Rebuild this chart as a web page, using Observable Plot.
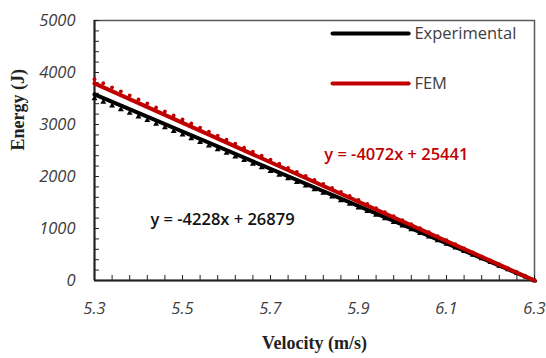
<!DOCTYPE html>
<html><head><meta charset="utf-8">
<script src="https://cdn.jsdelivr.net/npm/d3@7"></script>
<script src="https://cdn.jsdelivr.net/npm/@observablehq/plot@0.6"></script>
<style>body{margin:0;background:#fff}</style>
</head><body><div id="chart"></div>
<script>
const velocity = [5.30,5.32,5.34,5.36,5.38,5.40,5.42,5.44,5.46,5.48,5.50,5.52,5.54,5.56,5.58,5.60,5.62,5.64,5.66,5.68,5.70,5.72,5.74,5.76,5.78,5.80,5.82,5.84,5.86,5.88,5.90,5.92,5.94,5.96,5.98,6.00,6.02,6.04,6.06,6.08,6.10,6.12,6.14,6.16,6.18,6.20,6.22,6.24,6.26,6.28,6.30];
const expEnergy = [3500,3430,3360,3290,3220,3150,3080,3010,2940,2870,2800,2730,2660,2590,2520,2450,2380,2310,2240,2170,2100,2030,1960,1890,1820,1750,1680,1610,1540,1470,1400,1330,1260,1190,1120,1050,980,910,840,770,700,630,560,490,420,350,280,210,140,70,0];
const femEnergy = [3870,3793,3715,3638,3560,3483,3406,3328,3251,3173,3096,3019,2941,2864,2786,2709,2632,2554,2477,2399,2322,2245,2167,2090,2012,1935,1858,1780,1703,1625,1548,1471,1393,1316,1238,1161,1084,1006,929,851,774,697,619,542,464,387,310,232,155,77,0];
const expLineV = [5.3, 6.3];
const expLineE = [3580, 0];
const femLineV = [5.3, 6.3];
const femLineE = [3790, 0];
const seriesNames = ["Experimental", "FEM"];
const seriesColors = ["#000000", "#c00000"];
const equations = ["y = -4228x + 26879", "y = -4072x + 25441"];
const xMajor = [5.3, 5.5, 5.7, 5.9, 6.1, 6.3];
const xMinor = d3.range(0, 26).map(i => 5.3 + i * 0.04);
const yMajor = [0, 1000, 2000, 3000, 4000, 5000];
const yMinor = d3.range(0, 26).map(i => i * 200);

const expPts = velocity.map((v, i) => ({v, e: expEnergy[i]}));
const femPts = velocity.map((v, i) => ({v, e: femEnergy[i]}));
const expLine = expLineV.map((v, i) => ({v, e: expLineE[i]}));
const femLine = femLineV.map((v, i) => ({v, e: femLineE[i]}));

const tickFont = {fontFamily: "Open Sans", fontStyle: "italic", fontSize: 16.5, fill: "#404040"};

const chart = Plot.plot({
  width: 546, height: 358,
  marginLeft: 94, marginRight: 12, marginTop: 20, marginBottom: 78,
  x: {domain: [5.3, 6.3], label: null},
  y: {domain: [0, 5000], label: null},
  style: {background: "#fff", overflow: "visible"},
  marks: [
    Plot.frame({stroke: "#595959", strokeWidth: 1.5}),
    Plot.axisX({ticks: xMinor, tickSize: -5, text: null, label: null, stroke: "#222"}),
    Plot.axisX({ticks: xMajor, tickSize: 0, tickPadding: 22, tickFormat: d3.format(".1f"), label: null, ...tickFont}),
    Plot.axisY({ticks: yMinor, tickSize: -5, text: null, label: null, stroke: "#222"}),
    Plot.axisY({ticks: yMajor, tickSize: 0, tickPadding: 19, tickFormat: d => String(d), label: null, ...tickFont}),
    Plot.ruleY([0], {stroke: "#222", strokeWidth: 2}),
    Plot.ruleX([5.3], {stroke: "#222", strokeWidth: 2}),
    Plot.dot(expPts, {x: "v", y: "e", r: 2.2, fill: seriesColors[0], stroke: "none", symbol: "triangle"}),
    Plot.dot(femPts, {x: "v", y: "e", r: 1.9, fill: seriesColors[1], stroke: "none"}),
    Plot.line(expLine, {x: "v", y: "e", stroke: seriesColors[0], strokeWidth: 4}),
    Plot.line(femLine, {x: "v", y: "e", stroke: seriesColors[1], strokeWidth: 4}),
    // legend
    Plot.line([{v: 5.841, e: 4750}, {v: 6.014, e: 4750}], {x: "v", y: "e", stroke: seriesColors[0], strokeWidth: 4}),
    Plot.line([{v: 5.841, e: 3790}, {v: 6.014, e: 3790}], {x: "v", y: "e", stroke: seriesColors[1], strokeWidth: 4}),
    Plot.text([seriesNames[0]], {x: 6.027, y: 4750, text: d => d, textAnchor: "start", fontFamily: "Open Sans", fontSize: 16.5, fill: "#404040"}),
    Plot.text([seriesNames[1]], {x: 6.027, y: 3790, text: d => d, textAnchor: "start", fontFamily: "Open Sans", fontSize: 16.5, fill: "#404040"}),
    // equations
    Plot.text([equations[1]], {x: 5.986, y: 2423, text: d => d, fontFamily: "Open Sans", fontWeight: 600, fontSize: 16.5, fill: seriesColors[1]}),
    Plot.text([equations[0]], {x: 5.591, y: 1173, text: d => d, fontFamily: "Open Sans", fontWeight: 600, fontSize: 16.5, fill: "#111"}),
    // axis titles
    Plot.text(["Energy (J)"], {frameAnchor: "left", dx: -76, rotate: -90, fontFamily: "Liberation Serif", fontWeight: "bold", fontSize: 18, fill: "#222"}),
    Plot.text(["Velocity (m/s)"], {frameAnchor: "bottom", dy: 68, fontFamily: "Liberation Serif", fontWeight: "bold", fontSize: 18, fill: "#222"})
  ]
});
document.getElementById("chart").appendChild(chart);
</script>
</body></html>
